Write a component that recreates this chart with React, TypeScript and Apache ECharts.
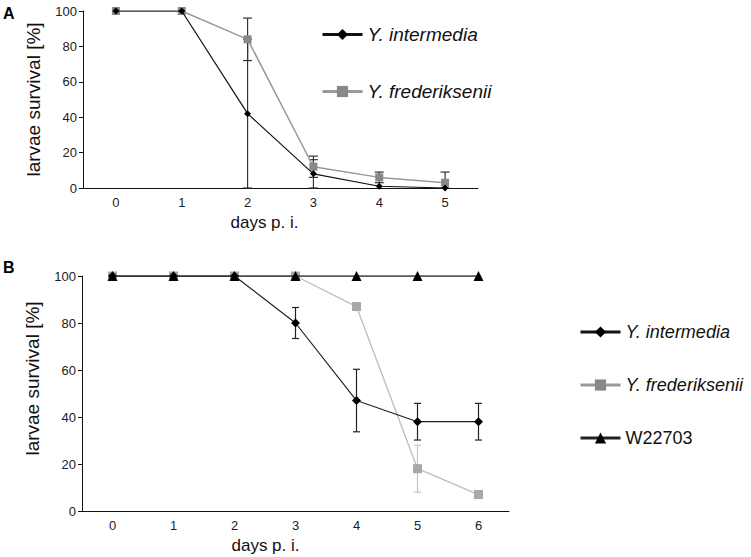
import React, { useEffect, useRef } from "react";
import * as echarts from "echarts";

const daysA = ["0", "1", "2", "3", "4", "5"];
const daysB = ["0", "1", "2", "3", "4", "5", "6"];
const yTicks = [0, 20, 40, 60, 80, 100];

const aIntermedia = [100, 100, 42, 8, 1, 0];
const aIntermediaErr = [0, 0, 42, 8, 0, 0];
const aFred = [100, 100, 84, 12, 6, 3];
const aFredErr = [0, 0, 12, 6, 3, 6];

const bIntermedia = [100, 100, 100, 80, 47, 38, 38];
const bIntermediaErr = [0, 0, 0, 6.6, 13.3, 7.8, 7.8];
const bFred = [100, 100, 100, 100, 87, 18, 7];
const bFredErr = [0, 0, 0, 0, 0, 10, 0];
const bW22703 = [100, 100, 100, 100, 100, 100, 100];

const FONT = "'Liberation Sans', Arial, Helvetica, sans-serif";

function errData(vals: number[], errs: number[]) {
  const out: number[][] = [];
  vals.forEach((v, i) => {
    if (errs[i] > 0) out.push([i, Math.max(0, v - errs[i]), v + errs[i]]);
  });
  return out;
}

function errSeries(name: string, idx: number, data: number[][], color: string, cap: number) {
  return {
    type: "custom",
    name,
    xAxisIndex: idx,
    yAxisIndex: idx,
    z: 1,
    silent: true,
    data,
    renderItem: (params: any, api: any) => {
      const x = api.value(0);
      const lo = api.coord([x, api.value(1)]);
      const hi = api.coord([x, api.value(2)]);
      const style = { stroke: color, lineWidth: 1.2 };
      return {
        type: "group",
        children: [
          { type: "line", shape: { x1: hi[0], y1: hi[1], x2: lo[0], y2: lo[1] }, style },
          { type: "line", shape: { x1: hi[0] - cap / 2, y1: hi[1], x2: hi[0] + cap / 2, y2: hi[1] }, style },
          { type: "line", shape: { x1: lo[0] - cap / 2, y1: lo[1], x2: lo[0] + cap / 2, y2: lo[1] }, style },
        ],
      };
    },
  };
}

function xAxisCfg(idx: number, cats: string[], padRight: number) {
  return {
    type: "category",
    gridIndex: idx,
    data: cats,
    boundaryGap: true,
    name: "days p. i.",
    nameLocation: "middle",
    nameGap: 26,
    nameTextStyle: { fontFamily: FONT, fontSize: 17, color: "#111", padding: [0, padRight, 0, 0] },
    axisLine: { lineStyle: { color: "#111", width: 1 } },
    axisTick: { length: 4, lineStyle: { color: "#111" } },
    axisLabel: { fontFamily: FONT, fontSize: 13, color: "#222", margin: 8 },
    splitLine: { show: false },
  };
}

function yAxisCfg(idx: number, padLeft: number) {
  return {
    type: "value",
    gridIndex: idx,
    min: yTicks[0],
    max: yTicks[yTicks.length - 1],
    interval: 20,
    name: "larvae survival [%]",
    nameLocation: "middle",
    nameGap: 40,
    nameTextStyle: { fontFamily: FONT, fontSize: 19, color: "#111", padding: [0, 0, 0, padLeft] },
    axisLine: { show: true, lineStyle: { color: "#111", width: 1 } },
    axisTick: { show: true, length: 4, lineStyle: { color: "#111" } },
    axisLabel: { fontFamily: FONT, fontSize: 13, color: "#222", margin: 6 },
    splitLine: { show: false },
  };
}

export default function App() {
  const ref = useRef<HTMLDivElement>(null);
  useEffect(() => {
    if (!ref.current) return;
    const chart = echarts.init(ref.current, undefined, { renderer: "svg" });
    chart.setOption({
      animation: false,
      backgroundColor: "#fff",
      grid: [
        { left: 83, top: 11, width: 395, height: 177 },
        { left: 82, top: 276, width: 427, height: 235 },
      ],
      xAxis: [xAxisCfg(0, daysA, 32), xAxisCfg(1, daysB, 60)],
      yAxis: [yAxisCfg(0, 0), yAxisCfg(1, 30)],
      legend: [
        {
          orient: "vertical",
          left: 316,
          top: 20,
          itemWidth: 40,
          itemHeight: 14,
          itemGap: 38,
          lineStyle: { width: 3 },
          textStyle: { fontFamily: FONT, fontSize: 19, fontStyle: "italic", color: "#111" },
          data: ["Y. intermedia", "Y. frederiksenii"],
        },
        {
          orient: "vertical",
          left: 574,
          top: 318,
          itemWidth: 40,
          itemHeight: 14,
          itemGap: 35,
          lineStyle: { width: 3 },
          textStyle: { fontFamily: FONT, fontSize: 18, fontStyle: "italic", color: "#111" },
          data: [
            "Y. intermedia",
            "Y. frederiksenii",
            { name: "W22703", textStyle: { fontStyle: "normal" } },
          ],
        },
      ],
      graphic: [
        { type: "text", left: 3, top: 5, style: { text: "A", font: `bold 16px ${FONT}`, fill: "#000" } },
        { type: "text", left: 3, top: 259, style: { text: "B", font: `bold 16px ${FONT}`, fill: "#000" } },
      ],
      series: [
        errSeries("errAInt", 0, errData(aIntermedia, aIntermediaErr), "#333", 9),
        errSeries("errAFred", 0, errData(aFred, aFredErr), "#333", 9),
        {
          type: "line",
          name: "Y. intermedia",
          xAxisIndex: 0,
          yAxisIndex: 0,
          data: aIntermedia,
          symbol: "diamond",
          symbolSize: 7,
          z: 3,
          lineStyle: { color: "#111", width: 1.2 },
          itemStyle: { color: "#000" },
        },
        {
          type: "line",
          name: "Y. frederiksenii",
          xAxisIndex: 0,
          yAxisIndex: 0,
          data: aFred,
          symbol: "rect",
          symbolSize: 8,
          z: 2,
          lineStyle: { color: "#999", width: 1.5 },
          itemStyle: { color: "#888" },
        },
        errSeries("errBInt", 1, errData(bIntermedia, bIntermediaErr), "#222", 7),
        errSeries("errBFred", 1, errData(bFred, bFredErr), "#c4c4c4", 7),
        {
          type: "line",
          name: "Y. frederiksenii",
          xAxisIndex: 1,
          yAxisIndex: 1,
          data: bFred,
          symbol: "rect",
          symbolSize: 9,
          z: 2,
          lineStyle: { color: "#bdbdbd", width: 1.3 },
          itemStyle: { color: "#a8a8a8" },
        },
        {
          type: "line",
          name: "Y. intermedia",
          xAxisIndex: 1,
          yAxisIndex: 1,
          data: bIntermedia,
          symbol: "diamond",
          symbolSize: 9,
          z: 3,
          lineStyle: { color: "#222", width: 1.2 },
          itemStyle: { color: "#000" },
        },
        {
          type: "line",
          name: "W22703",
          xAxisIndex: 1,
          yAxisIndex: 1,
          data: bW22703,
          symbol: "triangle",
          symbolSize: 10,
          z: 4,
          lineStyle: { color: "#222", width: 1.5 },
          itemStyle: { color: "#000" },
        },
      ],
    });
    return () => chart.dispose();
  }, []);
  return (
    <div
      ref={ref}
      style={{ position: "fixed", left: 0, top: 0, width: 751, height: 557, background: "#fff" }}
    />
  );
}
